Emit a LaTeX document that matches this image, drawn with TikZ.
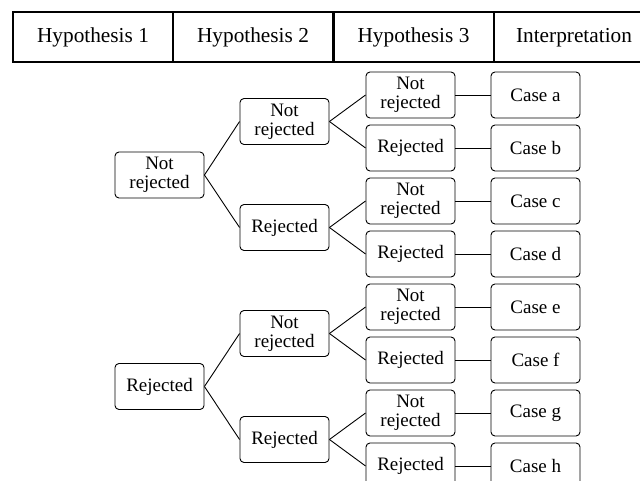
\documentclass[tikz,border=0pt]{standalone}
\usepackage{fontspec}
\setmainfont{Liberation Serif}
\begin{document}
\begin{tikzpicture}[x=1pt, y=-1pt,
    head/.style={draw, line width=2pt, minimum width=160pt, minimum height=50pt, inner sep=0pt, font=\fontsize{21.3}{23}\selectfont},
    choice/.style={draw, line width=0.9pt, rounded corners=4pt, minimum width=89pt, minimum height=46pt, inner sep=0pt, align=center, font=\fontsize{19}{19}\selectfont},
    link/.style={line width=0.9pt}
]
    \useasboundingbox (0,0) rectangle (640,481);

    % Header row
    \node[head] (hyp1) at (93,37.5) {Hypothesis 1};
    \node[head] (hyp2) at (253,37.5) {Hypothesis 2};
    \node[head] (hyp3) at (413.5,37.5) {Hypothesis 3};
    \node[head] (interp) at (574,37.5) {Interpretation};

    % Hypothesis 1
    \node[choice] (anr) at (159.5,175) {Not\\rejected};
    \node[choice] (ar) at (159.5,386.5) {Rejected};

    % Hypothesis 2
    \node[choice] (bnr1) at (284.5,121.5) {Not\\rejected};
    \node[choice] (br1) at (284.5,227.5) {Rejected};
    \node[choice] (bnr2) at (284.5,333.5) {Not\\rejected};
    \node[choice] (br2) at (284.5,439.5) {Rejected};

    % Hypothesis 3
    \node[choice] (cnr1) at (410.5,95) {Not\\rejected};
    \node[choice] (cr1) at (410.5,148) {Rejected};
    \node[choice] (cnr2) at (410.5,201) {Not\\rejected};
    \node[choice] (cr2) at (410.5,254) {Rejected};
    \node[choice] (cnr3) at (410.5,307) {Not\\rejected};
    \node[choice] (cr3) at (410.5,360) {Rejected};
    \node[choice] (cnr4) at (410.5,413) {Not\\rejected};
    \node[choice] (cr4) at (410.5,466) {Rejected};

    % Interpretation
    \node[choice] (casea) at (535.5,95) {Case a};
    \node[choice] (caseb) at (535.5,148) {Case b};
    \node[choice] (casec) at (535.5,201) {Case c};
    \node[choice] (cased) at (535.5,254) {Case d};
    \node[choice] (casee) at (535.5,307) {Case e};
    \node[choice] (casef) at (535.5,360) {Case f};
    \node[choice] (caseg) at (535.5,413) {Case g};
    \node[choice] (caseh) at (535.5,466) {Case h};

    % Branches
    \draw[link] (anr.east) -- (bnr1.west);
    \draw[link] (anr.east) -- (br1.west);
    \draw[link] (ar.east) -- (bnr2.west);
    \draw[link] (ar.east) -- (br2.west);

    \draw[link] (bnr1.east) -- (cnr1.west);
    \draw[link] (bnr1.east) -- (cr1.west);
    \draw[link] (br1.east) -- (cnr2.west);
    \draw[link] (br1.east) -- (cr2.west);
    \draw[link] (bnr2.east) -- (cnr3.west);
    \draw[link] (bnr2.east) -- (cr3.west);
    \draw[link] (br2.east) -- (cnr4.west);
    \draw[link] (br2.east) -- (cr4.west);

    \draw[link] (cnr1) -- (casea);
    \draw[link] (cr1) -- (caseb);
    \draw[link] (cnr2) -- (casec);
    \draw[link] (cr2) -- (cased);
    \draw[link] (cnr3) -- (casee);
    \draw[link] (cr3) -- (casef);
    \draw[link] (cnr4) -- (caseg);
    \draw[link] (cr4) -- (caseh);
\end{tikzpicture}
\end{document}
